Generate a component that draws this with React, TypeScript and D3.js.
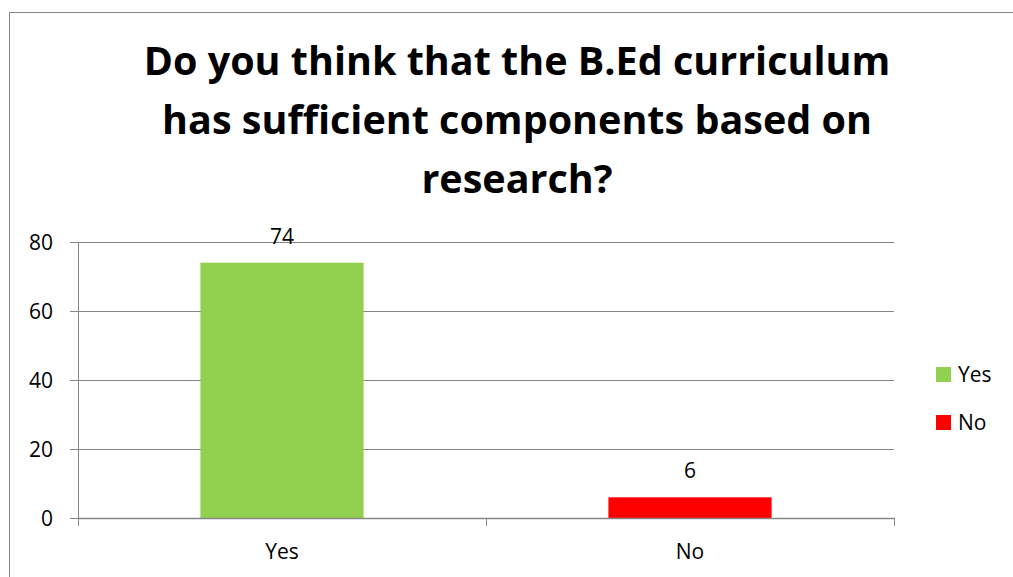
import React from "react";
import * as d3 from "d3";

const categories = ["Yes", "No"];
const values = [74, 6];
const colors = ["#92D050", "#FF0000"];
const yTicks = [0, 20, 40, 60, 80];
const titleLines = [
  "Do you think that the B.Ed curriculum",
  "has sufficient components based on",
  "research?",
];

const W = 1013;
const H = 577;
const plot = { left: 78, right: 894, top: 242, bottom: 518 };
const font = "'Open Sans', 'Noto Sans', sans-serif";
const axisGray = "#868686";
const labelSize = 21;

export default function App() {
  const x = d3
    .scaleBand<string>()
    .domain(categories)
    .range([plot.left, plot.right])
    .paddingInner(0.6)
    .paddingOuter(0.3);
  const band = d3.scaleBand<string>().domain(categories).range([plot.left, plot.right]);
  const y = d3.scaleLinear().domain([0, 80]).range([plot.bottom, plot.top]);

  return (
    <svg
      width={W}
      height={H}
      style={{ position: "absolute", left: 0, top: 0, background: "#fff" }}
      fontFamily={font}
    >
      {/* chart frame */}
      <rect x={9.5} y={12.5} width={W + 10} height={H + 10} fill="none" stroke={axisGray} strokeWidth={1} />

      {/* title */}
      {titleLines.map((t, i) => (
        <text
          key={i}
          x={517}
          y={75 + i * 59}
          textAnchor="middle"
          fontSize={39.5}
          fontWeight="bold"
          fill="#000"
        >
          {t}
        </text>
      ))}

      {/* gridlines and y ticks */}
      {yTicks.map((v) => (
        <g key={v}>
          <line
            x1={plot.left - 8}
            x2={plot.right}
            y1={Math.round(y(v)) + 0.5}
            y2={Math.round(y(v)) + 0.5}
            stroke={axisGray}
            strokeWidth={1}
          />
          <text x={53} y={y(v)} dy="0.36em" textAnchor="end" fontSize={labelSize} fill="#000">
            {v}
          </text>
        </g>
      ))}

      {/* y axis */}
      <line x1={plot.left + 0.5} x2={plot.left + 0.5} y1={plot.top} y2={plot.bottom + 8} stroke={axisGray} />

      {/* bars */}
      {categories.map((c, i) => (
        <rect
          key={c}
          x={x(c)}
          y={y(values[i])}
          width={x.bandwidth()}
          height={y(0) - y(values[i])}
          fill={colors[i]}
        />
      ))}

      {/* x axis */}
      <line x1={plot.left} x2={plot.right + 0.5} y1={plot.bottom + 0.5} y2={plot.bottom + 0.5} stroke={axisGray} strokeWidth={1.5} />
      {[plot.left, ...categories.map((c) => (band(c) as number) + band.bandwidth())].map((t, i) => (
        <line key={i} x1={t + 0.5} x2={t + 0.5} y1={plot.bottom} y2={plot.bottom + 8} stroke={axisGray} />
      ))}

      {/* value labels */}
      {categories.map((c, i) => (
        <text
          key={c}
          x={(x(c) as number) + x.bandwidth() / 2}
          y={y(values[i]) - 19}
          textAnchor="middle"
          fontSize={labelSize}
          fill="#000"
        >
          {values[i]}
        </text>
      ))}

      {/* category labels */}
      {categories.map((c) => (
        <text
          key={c}
          x={(band(c) as number) + band.bandwidth() / 2}
          y={559}
          textAnchor="middle"
          fontSize={labelSize}
          fill="#000"
        >
          {c}
        </text>
      ))}

      {/* legend */}
      {categories.map((c, i) => (
        <g key={c} transform={`translate(936, ${367 + i * 48})`}>
          <rect width={15} height={15} fill={colors[i]} />
          <text x={22} y={15} fontSize={labelSize} fill="#000">
            {c}
          </text>
        </g>
      ))}
    </svg>
  );
}
